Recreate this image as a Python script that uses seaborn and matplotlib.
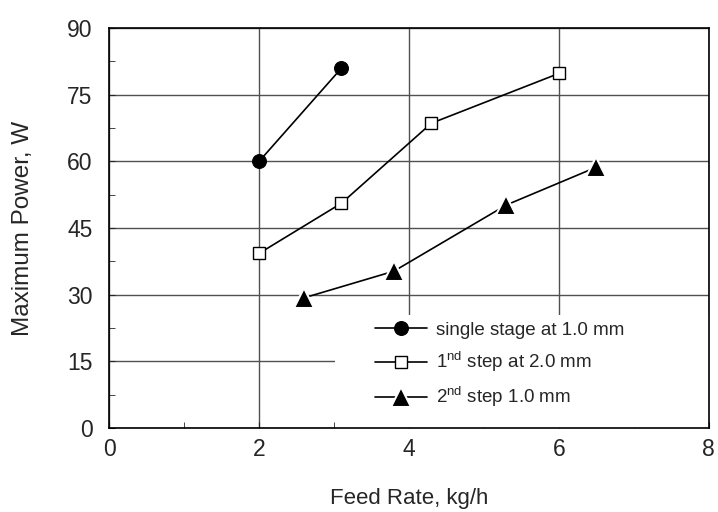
import matplotlib
matplotlib.use("Agg")
import matplotlib.pyplot as plt
import seaborn as sns
from matplotlib.patches import Rectangle
from matplotlib.ticker import MultipleLocator

# data
single_x = [2.0, 3.1]
single_y = [60.0, 81.0]
step1_x = [2.0, 3.1, 4.3, 6.0]
step1_y = [39.3, 50.6, 68.6, 79.8]
step2_x = [2.6, 3.8, 5.3, 6.5]
step2_y = [29.3, 35.3, 50.2, 58.7]

labels = ["single stage at 1.0 mm",
          r"1$^{\mathrm{nd}}$ step at 2.0 mm",
          r"2$^{\mathrm{nd}}$ step 1.0 mm"]

sns.set_style("ticks")
plt.rcParams['font.family'] = ['Liberation Sans', 'DejaVu Sans']
plt.rcParams['mathtext.fontset'] = 'custom'
plt.rcParams['mathtext.rm'] = 'Liberation Sans'

fig = plt.figure(figsize=(7.18, 5.12), dpi=100)
ax = fig.add_axes([0.152, 0.164, 0.835, 0.781])

sns.lineplot(x=single_x, y=single_y, ax=ax, color='black', lw=1.2,
             marker='o', markersize=10, markerfacecolor='black',
             markeredgecolor='black', label=labels[0])
sns.lineplot(x=step1_x, y=step1_y, ax=ax, color='black', lw=1.2,
             marker='s', markersize=9, markerfacecolor='white',
             markeredgecolor='black', markeredgewidth=1, label=labels[1])
sns.lineplot(x=step2_x, y=step2_y, ax=ax, color='black', lw=1.2,
             marker='^', markersize=14, markerfacecolor='black',
             markeredgecolor='white', markeredgewidth=1.5, label=labels[2])

ax.set_xlim(0, 8)
ax.set_ylim(0, 90)
ax.xaxis.set_major_locator(MultipleLocator(2))
ax.xaxis.set_minor_locator(MultipleLocator(1))
ax.yaxis.set_major_locator(MultipleLocator(15))
ax.yaxis.set_minor_locator(MultipleLocator(7.5))
ax.grid(True, which='major', color='#505050', lw=1.0)
ax.set_axisbelow(True)
ax.tick_params(which='both', direction='in', labelsize=16.5, length=4,
               top=False, right=False)
ax.tick_params(axis='x', pad=7)
ax.tick_params(axis='y', pad=12)
for s in ax.spines.values():
    s.set_color('black')
    s.set_linewidth(1.2)
    s.set_zorder(6)

# white legend area hides the grid in the lower right corner
ax.add_patch(Rectangle((0.377, 0.0), 0.623, 0.283, transform=ax.transAxes,
                       facecolor='white', edgecolor='none', zorder=1))

ax.set_xlabel("Feed Rate, kg/h", fontsize=16)
ax.set_ylabel("Maximum Power, W", fontsize=17.5)
ax.xaxis.set_label_coords(0.5, -0.15)
ax.yaxis.set_label_coords(-0.125, 0.5)

leg = ax.legend(loc='lower left', bbox_to_anchor=(0.412, 0.0), fontsize=13.5,
                frameon=False, handlelength=2.8,
                handletextpad=0.45, labelspacing=0.55, borderpad=1.0,
                borderaxespad=0)

fig.savefig("out.png", dpi=100)
